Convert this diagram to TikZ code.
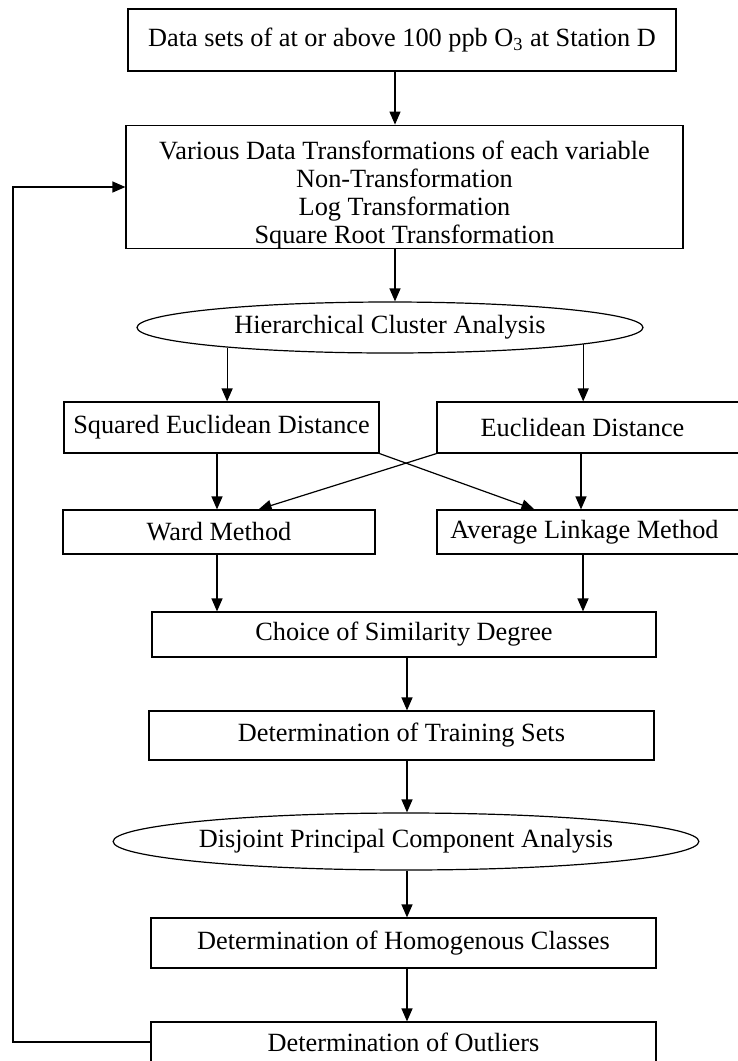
\documentclass[tikz,border=0pt]{standalone}
\usepackage{fontspec}
\setmainfont{Liberation Serif}
\usetikzlibrary{shapes,arrows.meta}
\tikzset{
  block/.style = {draw, rectangle, inner sep=0pt, align=center},
  oval/.style  = {draw, ellipse, inner sep=0pt},
  column/.style = {coordinate}
}

\begin{document}
\begin{tikzpicture}[x=0.5pt, y=-0.5pt, line width=0.6pt,
  >={Triangle[length=6.5pt,width=5.5pt]}, font=\fontsize{13.15}{14}\selectfont]
\useasboundingbox (0,0) rectangle (738,1061);

% Arrow columns
\draw node [column] (tcol) at (395,0) {};
\draw node [column] (lcol) at (217,0) {};
\draw node [column] (rcol) at (581,0) {};
\draw node [column] (mcol) at (407,0) {};
\draw node [column] (back) at (13,0) {};

% Data and transformations
\draw node [block, minimum width=274pt, minimum height=31pt] (data) at (402,40)
  {Data sets of at or above 100 ppb O\textsubscript{3} at Station D};
\draw node [block, minimum width=278.5pt, minimum height=61pt] (transf) at (404.5,187)
  {\rule{0pt}{17pt}Various Data Transformations of each variable\\Non-Transformation\\Log Transformation\\Square Root Transformation};

% Cluster analysis
\draw node [oval, minimum width=253pt, minimum height=25.5pt] (hca) at (390,327.5) {Hierarchical Cluster Analysis};
\draw node [block, minimum width=157.5pt, minimum height=25.5pt] (sed) at (221.5,427.5) {Squared Euclidean Distance};
\draw node [block, minimum width=151.5pt, minimum height=25.5pt] (euc) at (588.5,427.5) {\hspace*{-6pt}Euclidean Distance};
\draw node [block, minimum width=156pt, minimum height=22pt] (ward) at (219,532) {Ward Method};
\draw node [block, minimum width=151.5pt, minimum height=22pt] (avg) at (588.5,532) {\hspace*{-4pt}Average Linkage Method};

% Classes
\draw node [block, minimum width=252pt, minimum height=22.5pt] (choice) at (404,634.5) {Choice of Similarity Degree};
\draw node [block, minimum width=252.5pt, minimum height=24.5pt] (train) at (401.5,735.5) {Determination of Training Sets};
\draw node [oval, minimum width=270pt, minimum height=28.5pt] (dpca) at (406,841.5) {Disjoint Principal Component Analysis};
\draw node [block, minimum width=252.5pt, minimum height=25pt] (homog) at (403.5,943) {Determination of Homogenous Classes};
\draw node [block, minimum width=252.5pt, minimum height=20pt] (outl) at (403.5,1042) {Determination of Outliers};

% Connections
\draw[->] (data.south -| tcol) -- (transf.north -| tcol);
\draw[->] (transf.south -| tcol) -- (hca.north -| tcol);
\draw[->] (hca.-173.9) -- (sed.north -| hca.-173.9);
\draw[->] (hca.-5) -- (euc.north -| hca.-5);
\draw[->] (sed.south -| lcol) -- (ward.north -| lcol);
\draw[->] (euc.south -| rcol) -- (avg.north -| rcol);
\draw[->] (sed.south east) -- ([xshift=49pt]avg.north west);
\draw[->] (euc.south west) -- ([xshift=-58.5pt]ward.north east);
\draw[->] (ward.south -| lcol) -- (choice.north -| lcol);
\draw[->] ([xshift=1pt]avg.south -| rcol) -- ([xshift=1pt]choice.north -| rcol);
\draw[->] (choice.south -| mcol) -- (train.north -| mcol);
\draw[->] (train.south -| mcol) -- (dpca.north -| mcol);
\draw[->] (dpca.south -| mcol) -- (homog.north -| mcol);
\draw[->] (homog.south -| mcol) -- (outl.north -| mcol);
\draw[->] (outl.west) -- (outl.west -| back) |- (transf.west);

\end{tikzpicture}
\end{document}
